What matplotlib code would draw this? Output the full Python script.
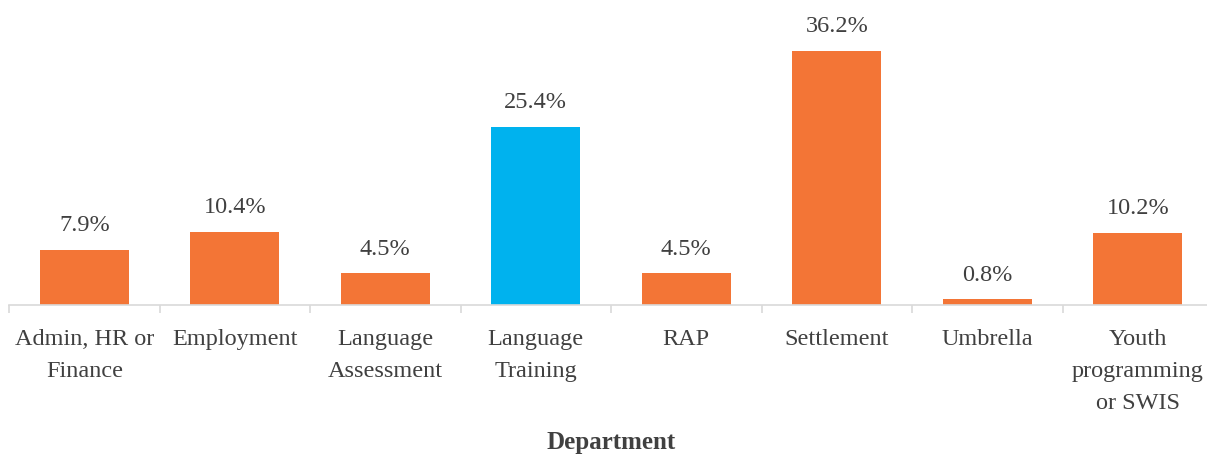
import matplotlib.pyplot as plt
from matplotlib.ticker import FixedLocator

plt.rcParams['font.family'] = ['Liberation Serif', 'DejaVu Serif']

departments = ["Admin, HR or\nFinance", "Employment", "Language\nAssessment",
               "Language\nTraining", "RAP", "Settlement", "Umbrella",
               "Youth\nprogramming\nor SWIS"]
shares = [7.9, 10.4, 4.5, 25.4, 4.5, 36.2, 0.8, 10.2]
highlight = "Language\nTraining"

ORANGE = "#F37536"
BLUE = "#00B2EE"
TEXT = "#404040"
GRID = "#D9D9D9"

fig = plt.figure(figsize=(12.07, 4.58), dpi=100)
ax = fig.add_axes([0.0075, 0.334, 0.9975, 0.6135])

x = list(range(len(departments)))
colors = [BLUE if d == highlight else ORANGE for d in departments]
bars = ax.bar(x, shares, width=0.59, color=colors)

# percentage above each bar
for b, v in zip(bars, shares):
    ax.annotate(f"{v:.1f}%", (b.get_x() + b.get_width() / 2, v),
                xytext=(0, 10), textcoords="offset points",
                ha="center", va="bottom", fontsize=17.5, color=TEXT)

ax.set_xlim(-0.5, len(departments) - 0.5)
ax.set_ylim(0, 40)
ax.set_yticks([])

ax.set_xticks(x)
ax.set_xticklabels(departments, fontsize=17.5, color=TEXT, linespacing=1.7)
ax.tick_params(axis="x", which="major", length=0, pad=17)
# small separators between categories
ax.xaxis.set_minor_locator(FixedLocator([i - 0.5 for i in range(len(departments) + 1)]))
ax.tick_params(axis="x", which="minor", length=6, width=1.2, color=GRID)

for side in ("top", "right", "left"):
    ax.spines[side].set_visible(False)
ax.spines["bottom"].set_color(GRID)
ax.spines["bottom"].set_linewidth(1.2)

ax.set_xlabel("Department", fontsize=18, fontweight="bold", color=TEXT, labelpad=12)

fig.savefig("out.png", dpi=100)
